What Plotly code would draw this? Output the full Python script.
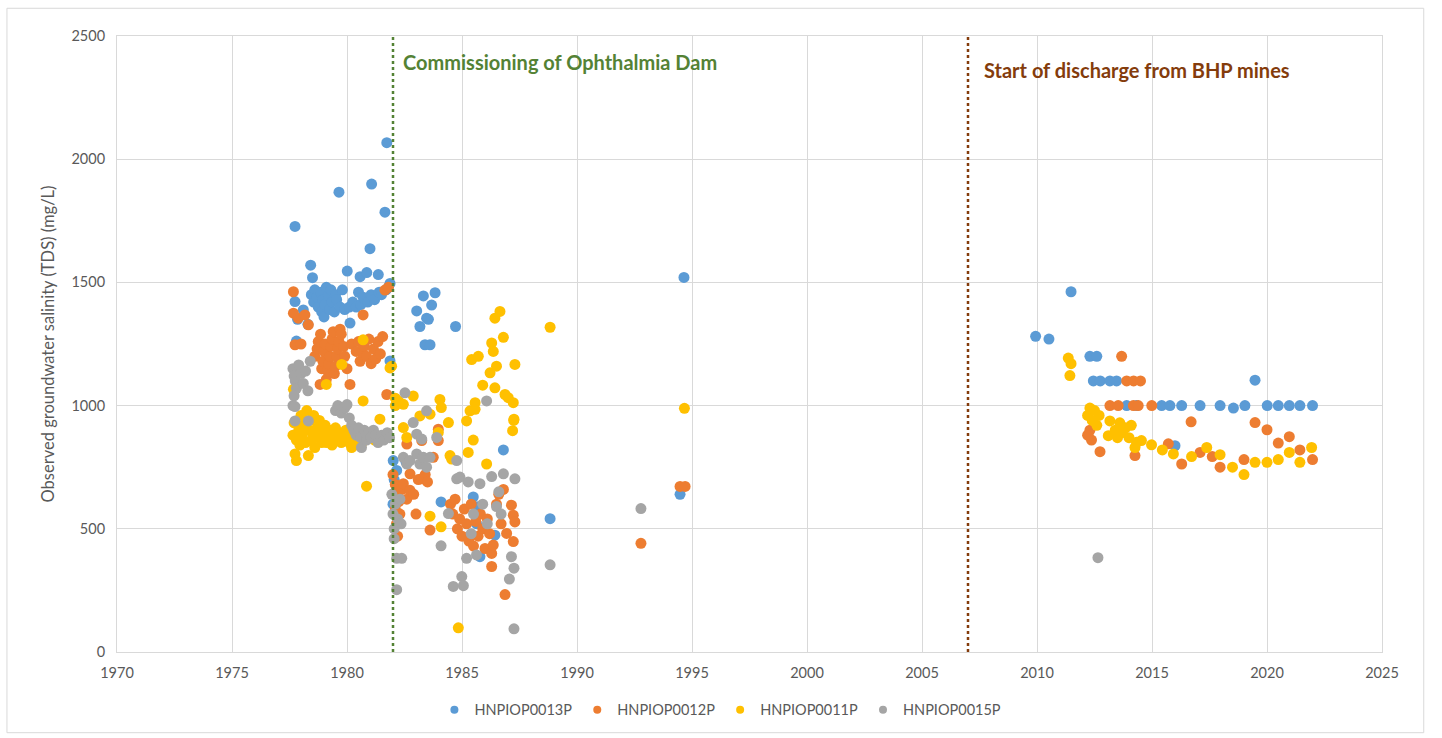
import plotly.graph_objects as go

# ---- Sampling dates (decimal years) and TDS (mg/L) per bore ----
p13_year = [1977.74, 1977.74, 1977.85, 1977.8, 1978.1, 1978.3, 1978.42, 1978.5, 1978.45, 1978.55,
            1978.6, 1978.7, 1978.75, 1978.85, 1978.9, 1978.95, 1979.0, 1979.05, 1979.1, 1979.2,
            1979.25, 1979.3, 1979.35, 1979.45, 1979.5, 1979.55, 1979.65, 1979.7, 1979.8, 1979.9,
            1980.01, 1980.1, 1980.13, 1980.25, 1980.4, 1980.5, 1980.57, 1980.6, 1980.7, 1980.86,
            1980.9, 1981.0, 1981.05, 1981.07, 1981.2, 1981.36, 1981.4, 1981.5, 1981.65, 1981.7,
            1981.73, 1981.8, 1981.87, 1981.87, 1982.01, 1982.16, 1982.57, 1982.05, 1982.1, 1982.0,
            1983.03, 1983.17, 1983.32, 1983.39, 1983.46, 1983.54, 1983.61, 1983.68, 1983.83, 1984.72,
            1984.09, 1985.49, 1985.7, 1985.63, 1986.43, 1985.78, 1986.8, 1988.83, 1994.48, 1994.65,
            2009.94, 2010.52, 2011.48, 2012.3, 2012.6, 2012.45, 2012.75, 2013.17, 2013.46, 2013.9,
            2014.33, 2015.42, 2015.78, 2016.0, 2016.29, 2017.09, 2017.96, 2018.54, 2019.04, 2019.48,
            2020.01, 2020.49, 2020.97, 2021.43, 2021.98]
p13_tds = [1727, 1422, 1350, 1262, 1388, 1330, 1570, 1519, 1450, 1420,
           1470, 1440, 1400, 1460, 1380, 1430, 1360, 1410, 1480, 1445,
           1390, 1470, 1420, 1380, 1450, 1430, 1866, 1400, 1470, 1390,
           1546, 1400, 1335, 1420, 1400, 1460, 1523, 1410, 1440, 1540,
           1420, 1637, 1450, 1899, 1430, 1532, 1460, 1450, 1785, 1470,
           2067, 1480, 1496, 1181, 777, 737, 770, 700, 650, 600,
           1384, 1321, 1445, 1247, 1355, 1350, 1247, 1408, 1458, 1321,
           609, 629, 589, 521, 474, 387, 820, 541, 640, 1520,
           1281, 1270, 1462, 1200, 1200, 1100, 1100, 1100, 1100, 1000,
           1000, 1000, 1000, 837, 1000, 1000, 1000, 990, 1000, 1103,
           1000, 1000, 1000, 1000, 1000]

p12_year = [1977.67, 1977.67, 1977.88, 1978.17, 1978.32, 1977.74, 1978.0, 1978.6, 1978.7, 1978.75,
            1978.85, 1978.9, 1978.95, 1979.0, 1979.05, 1979.1, 1979.15, 1978.83, 1979.2, 1979.25,
            1979.3, 1979.35, 1979.4, 1979.45, 1979.5, 1979.55, 1979.6, 1979.65, 1979.7, 1979.75,
            1979.85, 1979.9, 1980.0, 1980.13, 1980.2, 1980.4, 1980.5, 1980.57, 1980.65, 1980.7,
            1980.75, 1980.85, 1980.95, 1981.05, 1981.15, 1981.25, 1981.35, 1981.45, 1981.55, 1981.65,
            1981.73, 1981.8,
            1982.0, 1982.05, 1982.1, 1982.1, 1982.15, 1982.2, 1982.25, 1982.3, 1982.4, 1982.45,
            1982.6, 1982.6, 1982.74, 1982.74, 1982.9, 1983.0, 1983.1, 1983.25, 1983.25, 1983.4,
            1983.5, 1983.61, 1983.75, 1983.97, 1983.97, 1984.5, 1984.6, 1984.7, 1984.8, 1984.9,
            1985.0, 1985.1, 1985.2, 1985.3, 1985.4, 1985.5, 1985.6, 1985.7, 1985.8, 1985.9,
            1986.0, 1986.1, 1986.2, 1986.29, 1986.29, 1986.36, 1986.5, 1986.6, 1986.7, 1986.8,
            1986.87, 1986.94, 1987.15, 1987.23, 1987.3, 1987.23, 1992.78, 1994.48, 1994.7,
            2012.3, 2012.37, 2012.2, 2012.74, 2013.17, 2013.53, 2013.68, 2013.9, 2014.2, 2014.5,
            2014.19, 2014.4, 2014.99, 2014.26, 2015.71, 2016.29, 2016.7, 2017.09, 2017.62, 2017.96,
            2019.0, 2019.48, 2020.0, 2020.49, 2020.97, 2021.43, 2021.98]
p12_tds = [1462, 1375, 1355, 1368, 1328, 1247, 1250, 1200, 1230, 1260,
           1290, 1150, 1180, 1220, 1250, 1106, 1140, 1086, 1170, 1200,
           1240, 1270, 1300, 1130, 1160, 1200, 1230, 1260, 1310, 1290,
           1240, 1200, 1150, 1086, 1250, 1220, 1260, 1180, 1215, 1368,
           1240, 1200, 1270, 1170, 1230, 1190, 1260, 1210, 1280, 1469,
           1045, 1480,
           720, 640, 680, 580, 520, 470, 610, 560, 660, 683,
           844, 620, 656, 723, 640, 560, 700, 703, 858, 720,
           690, 495, 790, 858, 904, 600, 560, 620, 500, 540,
           470, 580, 520, 450, 600, 430, 530, 470, 560, 500,
           420, 540, 480, 347, 400, 434, 600, 640, 520, 660,
           233, 481, 596, 555, 528, 448, 441, 672, 672,
           900, 860, 880, 813, 1000, 1000, 1200, 1100, 1100, 1100,
           1000, 1000, 1000, 797, 845, 763, 934, 810, 793, 750,
           781, 931, 902, 848, 874, 820, 781]

p11_year = [1977.65, 1977.7, 1977.74, 1977.8, 1977.8, 1977.9, 1977.95, 1978.0, 1978.05, 1978.1,
            1978.2, 1978.25, 1978.32, 1978.35, 1978.4, 1978.45, 1978.5, 1978.55, 1978.6, 1978.7,
            1978.75, 1978.8, 1978.9, 1978.95, 1979.0, 1979.05, 1979.1, 1979.2, 1979.25, 1979.35,
            1979.4, 1979.5, 1979.55, 1979.65, 1979.75, 1979.85, 1979.95, 1980.0, 1980.1, 1980.2,
            1980.35, 1980.5, 1980.63, 1980.7, 1980.85, 1981.0, 1981.2, 1981.43, 1977.67, 1979.1,
            1979.77, 1980.7, 1981.87, 1981.94,
            1982.1, 1982.1, 1982.23, 1982.45, 1982.45, 1982.6, 1982.88, 1983.17, 1983.61, 1983.97,
            1984.04, 1984.1, 1984.41, 1984.48, 1984.55, 1984.09, 1983.61, 1984.84, 1985.2, 1985.27,
            1985.35, 1985.42, 1985.49, 1985.57, 1985.57, 1985.71, 1985.9, 1986.07, 1986.22, 1986.29,
            1986.36, 1986.43, 1986.43, 1986.5, 1986.65, 1986.8, 1986.87, 1987.01, 1987.2, 1987.25,
            1987.23, 1987.26, 1987.3, 1988.83, 1994.67,
            2011.36, 2011.48, 2011.43, 2012.2, 2012.3, 2012.4, 2012.5, 2012.6, 2012.7, 2013.1,
            2013.17, 2013.4, 2013.5, 2013.6, 2013.7, 2013.85, 2014.0, 2014.1, 2014.26, 2014.33,
            2014.54, 2014.98, 2015.45, 2015.93, 2016.72, 2017.38, 2017.96, 2018.5, 2019.0, 2019.48,
            2020.0, 2020.49, 2020.97, 2021.43, 2021.94]
p11_tds = [880, 930, 804, 777, 860, 900, 840, 960, 880, 920,
           850, 980, 797, 900, 940, 860, 890, 960, 830, 910,
           870, 940, 850, 900, 880, 920, 850, 870, 900, 840,
           880, 910, 860, 890, 850, 870, 900, 880, 850, 830,
           860, 840, 845, 1019, 673, 880, 860, 945, 1066, 1086,
           1167, 1267, 1153, 1160,
           1000, 1030, 1019, 1005, 911, 871, 1039, 958, 965, 891,
           1025, 992, 931, 797, 783, 508, 551, 98, 938, 810,
           979, 1187, 860, 1012, 985, 1200, 1083, 763, 1133, 1254,
           1220, 1355, 1072, 1160, 1382, 1277, 1045, 1032, 898, 940,
           1012, 945, 1167, 1318, 989,
           1193, 1170, 1122, 960, 990, 940, 980, 920, 960, 878,
           938, 900, 870, 930, 890, 910, 870, 920, 830, 851,
           858, 841, 820, 804, 793, 830, 801, 750, 720, 770,
           770, 781, 810, 770, 830]

p15_year = [1977.65, 1977.7, 1977.75, 1977.8, 1977.7, 1977.65, 1977.74, 1977.74, 1977.9, 1978.0,
            1978.1, 1978.2, 1978.3, 1978.32, 1978.4, 1979.5, 1979.6, 1979.75, 1979.9, 1980.0,
            1980.1, 1980.2, 1980.3, 1980.4, 1980.5, 1980.6, 1980.63, 1980.75, 1980.85, 1980.95,
            1981.05, 1981.15, 1981.25, 1981.35, 1981.5, 1981.6, 1981.75, 1981.85,
            1981.95, 1982.0, 1982.05, 1982.05, 1982.16, 1982.16, 1982.38, 1982.1, 1982.2, 1982.3,
            1982.35, 1982.45, 1982.52, 1982.6, 1982.74, 1982.88, 1983.03, 1983.03, 1983.17, 1983.25,
            1983.32, 1983.46, 1983.46, 1983.61, 1983.9, 1984.09, 1984.41, 1984.62, 1984.77, 1984.77,
            1984.91, 1984.99, 1985.06, 1985.2, 1985.27, 1985.4, 1985.5, 1985.63, 1985.78, 1985.9,
            1986.07, 1986.1, 1986.29, 1986.5, 1986.6, 1986.8, 1986.7, 1987.06, 1987.15, 1987.26,
            1987.26, 1987.3, 1988.83, 1992.78, 2012.65]
p15_tds = [1150, 1120, 1100, 1070, 1040, 1000, 996, 938, 1165, 1130,
           1090, 1140, 1060, 938, 1180, 980, 1000, 970, 990, 1004,
           950, 920, 900, 880, 910, 870, 830, 900, 860, 890,
           870, 900, 880, 850, 880, 860, 890, 870,
           640, 560, 500, 460, 253, 380, 380, 600, 540, 620,
           520, 790, 1052, 763, 777, 931, 884, 804, 763, 864,
           790, 979, 750, 790, 871, 431, 562, 266, 777, 703,
           710, 306, 269, 380, 690, 480, 560, 394, 683, 600,
           1019, 520, 712, 590, 650, 723, 560, 296, 387, 340,
           94, 703, 354, 582, 383]

series = [
    ("HNPIOP0013P", p13_year, p13_tds, "#5B9BD5"),
    ("HNPIOP0012P", p12_year, p12_tds, "#ED7D31"),
    ("HNPIOP0011P", p11_year, p11_tds, "#FFC000"),
    ("HNPIOP0015P", p15_year, p15_tds, "#A5A5A5"),
]

dam_year = 1982
bhp_year = 2007

fig = go.Figure()
for name, xs, ys, col in series:
    fig.add_trace(go.Scatter(
        x=xs, y=ys, mode="markers", name=name, legendgroup=name, showlegend=False,
        marker=dict(size=11, color=col, line=dict(width=0)),
    ))
# legend entries use a smaller swatch than the plotted markers
for name, xs, ys, col in series:
    fig.add_trace(go.Scatter(
        x=[None], y=[None], mode="markers", name=name, legendgroup=name, showlegend=True,
        marker=dict(size=8, color=col, line=dict(width=0)),
    ))

# event markers
fig.add_shape(type="line", xref="x", yref="y", x0=dam_year, x1=dam_year, y0=0, y1=2500,
              line=dict(color="#548235", width=2.5, dash="dot"))
fig.add_shape(type="line", xref="x", yref="y", x0=bhp_year, x1=bhp_year, y0=0, y1=2500,
              line=dict(color="#843C0C", width=2.5, dash="dot"))

fig.add_annotation(x=dam_year + 0.35, y=2395, xref="x", yref="y", xanchor="left", yanchor="middle",
                   text="<b>Commissioning of Ophthalmia Dam</b>", showarrow=False,
                   font=dict(family="Lato", size=20, color="#548235"))
fig.add_annotation(x=bhp_year + 0.6, y=2362, xref="x", yref="y", xanchor="left", yanchor="middle",
                   text="<b>Start of discharge from BHP mines</b>", showarrow=False,
                   font=dict(family="Lato", size=20, color="#843C0C"))

# chart border
fig.add_shape(type="rect", xref="paper", yref="paper",
              x0=-0.087, x1=1.033, y0=-0.131, y1=1.045,
              line=dict(color="#D9D9D9", width=1), fillcolor="rgba(0,0,0,0)", layer="below")

axis_font = dict(family="Lato", size=14.5, color="#595959")
fig.update_layout(
    width=1442, height=738,
    margin=dict(l=117, r=60, t=36, b=82),
    paper_bgcolor="white", plot_bgcolor="white",
    font=dict(family="Lato", color="#595959"),
    xaxis=dict(range=[1970, 2025], dtick=5, tick0=1970, showgrid=True, gridcolor="#D9D9D9",
               gridwidth=1, zeroline=False, showline=True, linecolor="#D9D9D9", mirror=True,
               ticks="", tickfont=axis_font, ticklabelstandoff=8),
    yaxis=dict(range=[0, 2500], dtick=500, showgrid=True, gridcolor="#D9D9D9", gridwidth=1,
               zeroline=False, showline=True, linecolor="#D9D9D9", mirror=True,
               ticks="", tickfont=axis_font, ticklabelstandoff=8,
               title=dict(text="Observed groundwater salinity (TDS) (mg/L)",
                          font=dict(family="Lato", size=16.5, color="#595959"), standoff=12)),
    legend=dict(orientation="h", x=0.477, xanchor="center", y=-0.094, yanchor="middle",
                font=dict(family="Lato", size=14.5, color="#595959"), itemwidth=30,
                traceorder="normal"),
)

fig.write_html("out.html")
